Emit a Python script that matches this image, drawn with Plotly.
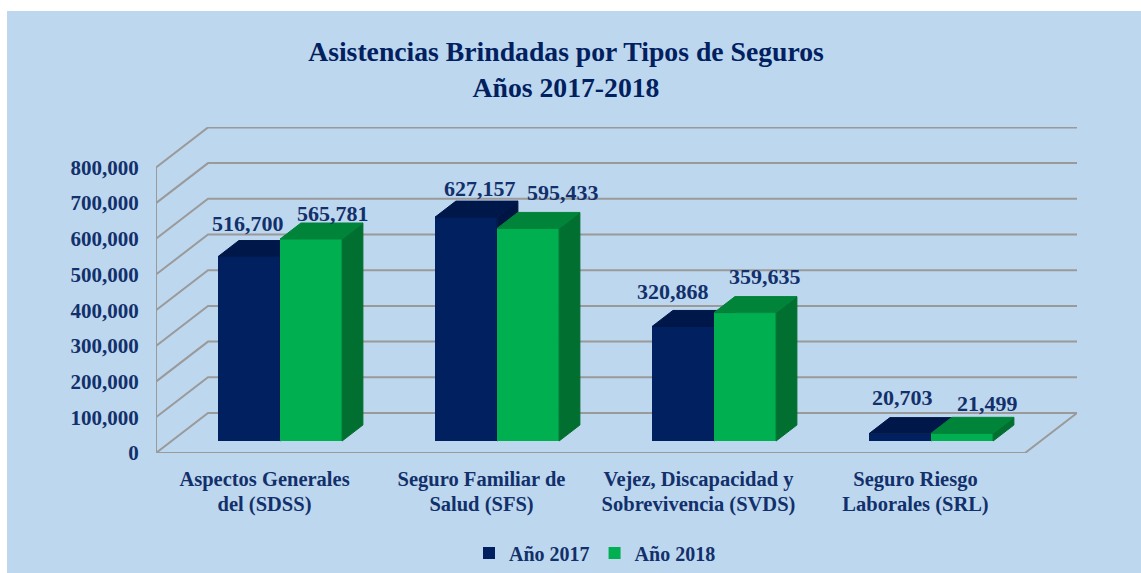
import plotly.graph_objects as go

# ---- data ----
line1_labels = ["Aspectos Generales", "Seguro Familiar de", "Vejez, Discapacidad y", "Seguro Riesgo"]
line2_labels = ["del (SDSS)", "Salud (SFS)", "Sobrevivencia (SVDS)", "Laborales (SRL)"]
values_2017 = [516700, 627157, 320868, 20703]
values_2018 = [565781, 595433, 359635, 21499]
y_ticks = [0, 100000, 200000, 300000, 400000, 500000, 600000, 700000, 800000]
series_names = ["Año 2017", "Año 2018"]

# ---- geometry & style ----
W, H = 1141, 573
L, R, T, B = 156, 1077, 127, 453         # plot box in pixels
CAT_PX = 217.0
PX_PER_UNIT = 35.7 / 100000
XMIN = -0.5
XMAX = XMIN + (R - L) / CAT_PX
YMAX = (B - T) / PX_PER_UNIT
DX = 52 / CAT_PX                         # wall depth, x units
DY = 40 / PX_PER_UNIT                    # wall depth, y units
D0, D1 = 0.3, 0.7                        # bar depth span
BAR_W = 62 / CAT_PX
TXT = "#12306B"
SERIF = "Liberation Serif"
GRID = "#9A9A9A"
PANEL = "#BDD7EE"
C17 = dict(front="#002060", top="#00174A", side="#001543")
C18 = dict(front="#00B050", top="#00843A", side="#006F2F")
# label offsets from the front top centre of each bar (pixels)
SHIFT_17 = [(-1, -33), (14, -29), (-10, -35), (2, -36)]
SHIFT_18 = [(22, -26), (35, -36), (20, -36), (25, -30)]

cats = list(range(len(values_2017)))
fig = go.Figure()


def gap(xs, ys, px, py):
    xs.extend(px + [px[0], None])
    ys.extend(py + [py[0], None])


def solid(xs, ys, color, xa, ya):
    fig.add_trace(go.Scatter(x=xs, y=ys, mode="lines", fill="toself", fillcolor=color,
                             line=dict(width=1, color=color), hoverinfo="skip",
                             showlegend=False, xaxis=xa, yaxis=ya))


# walls
wx, wy = [], []
for v in y_ticks:
    wx += [XMIN, XMIN + DX, XMAX, None]
    wy += [v, v + DY, v + DY, None]
wx += [XMIN, XMIN, None, XMIN, XMAX - DX, XMAX]
wy += [0, y_ticks[-1], None, 0, 0, DY]
fig.add_trace(go.Scatter(x=wx, y=wy, mode="lines", line=dict(color=GRID, width=2),
                         hoverinfo="skip", showlegend=False))


def bars(name, vals, offset, colors, xa, ya):
    lefts = [i + D0 * DX + offset for i in cats]
    base = D0 * DY
    fig.add_trace(go.Bar(name=name, x=[l + BAR_W / 2 for l in lefts], y=vals, base=base,
                         width=BAR_W, marker=dict(color=colors["front"], line=dict(width=0)),
                         xaxis=xa, yaxis=ya))
    dx, dy = (D1 - D0) * DX, (D1 - D0) * DY
    sx, sy, tx, ty = [], [], [], []
    for l, v in zip(lefts, vals):
        r, t = l + BAR_W, base + v
        gap(sx, sy, [r, r + dx, r + dx, r], [base, base + dy, t + dy, t])
        gap(tx, ty, [l, l + dx, r + dx, r], [t, t + dy, t + dy, t])
    solid(sx, sy, colors["side"], xa, ya)
    solid(tx, ty, colors["top"], xa, ya)
    return lefts


lefts17 = bars(series_names[0], values_2017, -BAR_W, C17, "x2", "y2")
lefts18 = bars(series_names[1], values_2018, 0, C18, "x3", "y3")

ann = []
for lefts, vals, shifts in ((lefts17, values_2017, SHIFT_17), (lefts18, values_2018, SHIFT_18)):
    for l, v, (sx, sy) in zip(lefts, vals, shifts):
        ann.append(dict(x=l + BAR_W / 2, y=v + D0 * DY, xref="x", yref="y", text=f"{v:,}",
                        showarrow=False, xshift=sx, yshift=-sy,
                        font=dict(family=SERIF, size=22, color=TXT, weight="bold")))

tick_font = dict(family=SERIF, size=20.5, color=TXT, weight="bold")
hidden_y = dict(range=[0, YMAX], visible=False, fixedrange=True)
fig.update_layout(
    width=W, height=H, margin=dict(l=L, r=W - R, t=T, b=H - B, autoexpand=False),
    paper_bgcolor="white", plot_bgcolor="rgba(0,0,0,0)",
    barmode="overlay", bargap=0,
    title=dict(text="Asistencias Brindadas por Tipos de Seguros<br>Años 2017-2018",
               x=566 / W, xanchor="center", y=1 - 61 / H, yanchor="top", yref="container",
               font=dict(family=SERIF, size=27.7, color="#002060", weight="bold")),
    xaxis=dict(range=[XMIN, XMAX], tickmode="array", tickvals=cats, ticktext=line1_labels,
               showgrid=False, zeroline=False, showline=False, ticks="outside", ticklen=7,
               tickcolor="rgba(0,0,0,0)", tickfont=tick_font, tickangle=0),
    xaxis2=dict(range=[XMIN, XMAX], overlaying="x", anchor="y2", tickmode="array", tickvals=cats,
                ticktext=line2_labels, showgrid=False, zeroline=False, showline=False,
                ticks="outside", ticklen=32, tickcolor="rgba(0,0,0,0)", tickfont=tick_font, tickangle=0),
    xaxis3=dict(range=[XMIN, XMAX], overlaying="x", anchor="y3", visible=False),
    yaxis=dict(range=[0, YMAX], tickmode="array", tickvals=y_ticks,
               ticktext=[f"{v:,}" for v in y_ticks], showgrid=False, zeroline=False, showline=False,
               ticks="outside", ticklen=12, tickcolor="rgba(0,0,0,0)",
               tickfont=dict(family=SERIF, size=21, color=TXT, weight="bold")),
    yaxis2=dict(overlaying="y", anchor="x2", **hidden_y),
    yaxis3=dict(overlaying="y", anchor="x3", **hidden_y),
    legend=dict(orientation="h", x=595 / W, xanchor="center", xref="container",
                y=1 - 553 / H, yanchor="middle", yref="container", bgcolor="rgba(0,0,0,0)",
                font=dict(family=SERIF, size=20, color=TXT, weight="bold")),
    annotations=ann,
    shapes=[dict(type="rect", xref="paper", yref="paper", layer="below",
                 x0=(7 - L) / (R - L), x1=(W - L) / (R - L),
                 y0=(B - H) / (B - T), y1=(B - 11) / (B - T),
                 fillcolor=PANEL, line=dict(width=0))],
)
fig.write_html("out.html", config={"displayModeBar": False},
               post_script="document.body.style.margin='0';")
